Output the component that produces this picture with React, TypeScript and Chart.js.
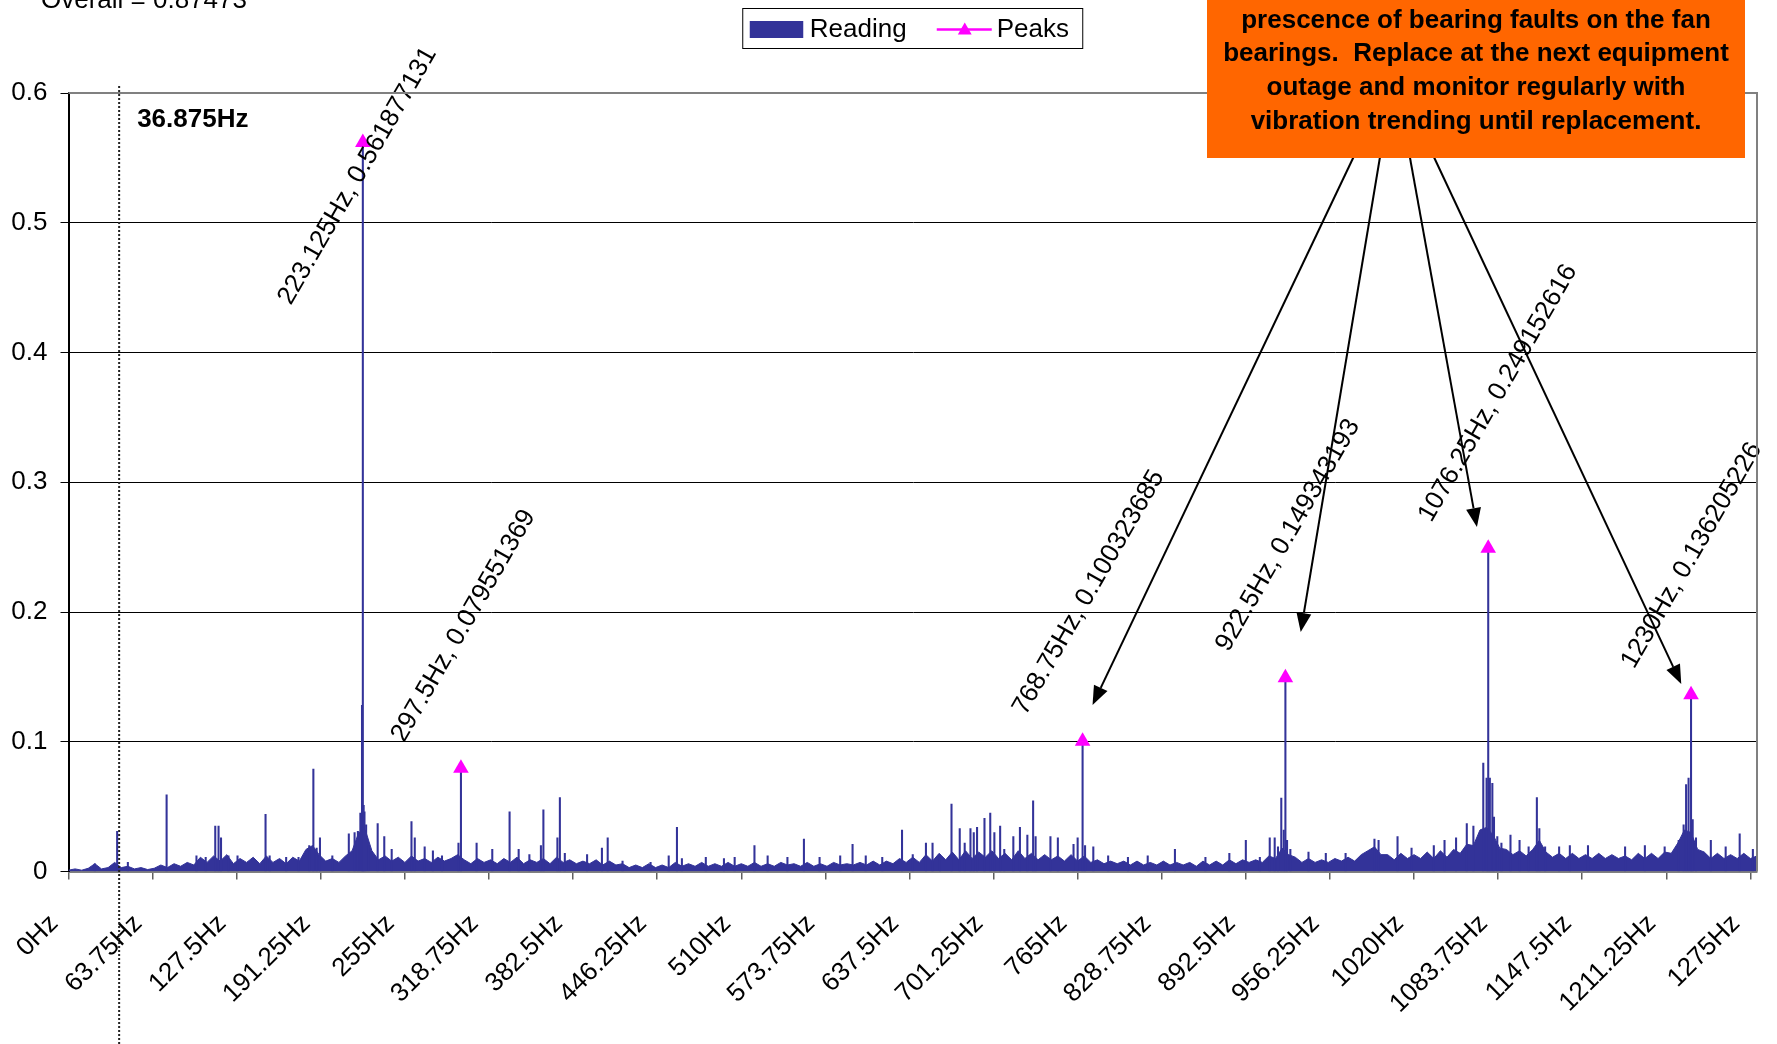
import React, { useEffect, useRef } from "react";
import { Chart, registerables } from "chart.js";

Chart.register(...registerables);

const FONT = "'Liberation Sans', Arial, Helvetica, sans-serif";

// ---- axis ticks ----
const xTickHz = [0, 63.75, 127.5, 191.25, 255, 318.75, 382.5, 446.25, 510, 573.75, 637.5, 701.25, 765, 828.75, 892.5, 956.25, 1020, 1083.75, 1147.5, 1211.25, 1275];
const xMaxHz = 1280;
const yTicks = [0, 0.1, 0.2, 0.3, 0.4, 0.5, 0.6];

// ---- peaks ----
const peakHz = [223.125, 297.5, 768.75, 922.5, 1076.25, 1230];
const peakAmp = [0.561877131, 0.079551369, 0.100323685, 0.149343193, 0.249152616, 0.136205226];

// ---- reading: noise floor (5 Hz steps, in thousandths) ----
const floorStepHz = 5;
const floorAmpMilli = [
  1, 2, 1, 2.5, 6, 2, 3, 7, 3, 4, 2, 3, 1.5, 2.5, 5, 3, 6, 4, 7, 5,
  11, 7, 12, 8, 13, 6, 10, 7, 11, 6, 12, 7, 10, 6, 11, 8, 17, 20, 13, 8,
  10, 7, 12, 16, 30, 32, 16, 9, 12, 8, 11, 7, 12, 8, 10, 7, 11, 8, 10, 13,
  9, 6, 10, 7, 9, 6, 10, 7, 11, 6, 9, 7, 10, 6, 11, 7, 9, 6, 8, 6,
  9, 5, 8, 5, 6, 3, 5, 3, 6, 3, 5, 3, 7, 4, 6, 4, 7, 4, 6, 4,
  7, 4, 6, 4, 7, 4, 6, 4, 7, 5, 6, 4, 7, 4, 6, 4, 7, 5, 6, 5,
  7, 5, 8, 5, 8, 6, 10, 7, 11, 7, 13, 8, 14, 9, 15, 9, 16, 10, 15, 11,
  16, 10, 14, 9, 16, 10, 14, 9, 13, 9, 12, 8, 13, 8, 12, 7, 9, 6, 8, 6,
  8, 5, 8, 5, 7, 5, 8, 5, 7, 5, 7, 4, 8, 5, 8, 5, 9, 6, 9, 7,
  9, 7, 12, 10, 18, 13, 11, 7, 10, 7, 9, 7, 10, 8, 11, 8, 13, 16, 19, 13,
  13, 9, 14, 10, 13, 10, 15, 10, 16, 11, 17, 14, 21, 20, 32, 34, 28, 18, 17, 13,
  16, 12, 17, 24, 15, 11, 14, 10, 14, 10, 13, 10, 14, 10, 13, 10, 12, 9, 14, 10,
  14, 10, 15, 14, 22, 32, 30, 17, 15, 10, 14, 10, 13, 10, 14, 10, 12,
];

// ---- reading: individual spectral lines [Hz, amplitude] ----
const spikesLow: [number, number][] = [
  [20, 0.006], [36.875, 0.031], [45, 0.007], [74.375, 0.059], [97, 0.012], [104, 0.011],
  [111.25, 0.035], [113.75, 0.035], [115.625, 0.026], [121.25, 0.012], [128.125, 0.012],
  [149.375, 0.044], [152.5, 0.012], [165, 0.011], [174.375, 0.011], [182.5, 0.02],
  [185.625, 0.079], [188.125, 0.018], [190.625, 0.026], [200, 0.012], [212.5, 0.029],
  [216.875, 0.03], [219.375, 0.031], [221.25, 0.045], [222.5, 0.128], [223.125, 0.561877131],
  [223.75, 0.051], [224.375, 0.046], [225.625, 0.036], [227.5, 0.02], [234.375, 0.037],
  [239.375, 0.027], [245, 0.017], [260, 0.0385], [262.5, 0.026], [270, 0.019], [276.25, 0.016],
  [283.125, 0.012], [295.625, 0.022], [297.5, 0.079551369], [309.375, 0.022], [321.25, 0.017],
  [334.375, 0.046], [341.25, 0.017], [349.375, 0.013], [358.125, 0.02], [360, 0.0475],
  [370.625, 0.026], [372.5, 0.057], [376.25, 0.014], [393.125, 0.013],
];
const spikesMid: [number, number][] = [
  [404.375, 0.018], [408.75, 0.026], [420, 0.008], [441.25, 0.007], [455, 0.012], [461.25, 0.034],
  [465, 0.01], [483.125, 0.011], [496.875, 0.01], [505, 0.011], [520, 0.02], [530, 0.012],
  [545, 0.011], [557.5, 0.025], [569.375, 0.011], [585, 0.012], [594.375, 0.021], [604.375, 0.012],
  [616.875, 0.011], [631.875, 0.032], [640, 0.013], [650, 0.022], [655, 0.022], [660.625, 0.013],
  [669.375, 0.052], [675.625, 0.033], [679.375, 0.022], [683.75, 0.033], [686.25, 0.03],
  [688.75, 0.034], [694.375, 0.041], [698.75, 0.045], [701.875, 0.03], [706.25, 0.035],
  [709.375, 0.017], [716.25, 0.027], [721.25, 0.034], [726.875, 0.028], [731.25, 0.0545],
  [733.125, 0.027], [744.375, 0.027], [750, 0.026], [761.875, 0.021], [765, 0.026],
  [768.75, 0.100323685], [770.625, 0.02], [776.875, 0.019], [788.125, 0.012],
];
const spikesHigh: [number, number][] = [
  [803.125, 0.011], [818.125, 0.012], [838.75, 0.017], [861.875, 0.011], [880, 0.014],
  [892.5, 0.024], [903.125, 0.011], [910.625, 0.026], [914.375, 0.026], [916.875, 0.019],
  [919.375, 0.0565], [921.25, 0.032], [922.5, 0.149343193], [923.75, 0.024], [926.25, 0.017],
  [940, 0.015], [953.125, 0.014], [968.125, 0.014], [990, 0.025], [993.125, 0.024],
  [1007.5, 0.027], [1018.125, 0.018], [1035, 0.02], [1043.125, 0.024], [1051.875, 0.026],
  [1060, 0.037], [1065, 0.035], [1072.5, 0.0835], [1075, 0.072], [1076.25, 0.249152616],
  [1077.5, 0.072], [1079.375, 0.068], [1080.625, 0.042], [1083.125, 0.027], [1086.25, 0.022],
  [1093.125, 0.028], [1100, 0.024], [1106.875, 0.019], [1113.125, 0.057], [1115, 0.033],
  [1119.375, 0.019], [1130, 0.019], [1138.125, 0.02], [1151.875, 0.02], [1180, 0.019],
  [1195, 0.02], [1210, 0.019], [1220.625, 0.024], [1224.375, 0.036], [1226.25, 0.067],
  [1228.125, 0.072], [1230, 0.136205226], [1231.25, 0.04], [1233.75, 0.026], [1245, 0.024],
  [1256.25, 0.019], [1266.875, 0.029], [1276.875, 0.017],
];

// ---- annotations ----
const overallText = "Overall = 0.87473";
const cursorHz = 36.875;
const noteLines = [
  "prescence of bearing faults on the fan",
  "bearings.  Replace at the next equipment",
  "outage and monitor regularly with",
  "vibration trending until replacement.",
];
const arrowTipHz = [776.3, 934.1, 1067.7, 1222.6];
const arrowTipAmp = [0.1283, 0.1846, 0.2655, 0.1445];

const NAVY = "#333399";
const MAGENTA = "#FF00FF";
const ORANGE = "#FF6600";

// layout (pixels)
const W = 1777;
const H = 1044;
const BOX = { left: 1207, right: 1745, bottom: 158, lineTop: 27.5, lineGap: 33.7 };
const ARROW_START_OFFSETS = [148, 173.5, 202.3, 225.5];

function drawTriangle(ctx: CanvasRenderingContext2D, cx: number, cy: number, r: number) {
  const hw = r * Math.sin(Math.PI / 3);
  ctx.beginPath();
  ctx.moveTo(cx, cy - r);
  ctx.lineTo(cx + hw, cy + r / 2);
  ctx.lineTo(cx - hw, cy + r / 2);
  ctx.closePath();
  ctx.fill();
}

function drawArrow(ctx: CanvasRenderingContext2D, x0: number, y0: number, x1: number, y1: number) {
  const ang = Math.atan2(y1 - y0, x1 - x0);
  const len = 19;
  const hw = 7.5;
  const bx = x1 - len * Math.cos(ang);
  const by = y1 - len * Math.sin(ang);
  ctx.beginPath();
  ctx.moveTo(x0, y0);
  ctx.lineTo(bx, by);
  ctx.stroke();
  ctx.beginPath();
  ctx.moveTo(x1, y1);
  ctx.lineTo(bx + hw * Math.sin(ang), by - hw * Math.cos(ang));
  ctx.lineTo(bx - hw * Math.sin(ang), by + hw * Math.cos(ang));
  ctx.closePath();
  ctx.fill();
}

const overlayPlugin = {
  id: "overlay",
  afterDatasetsDraw(chart: any) {
    const { ctx, scales } = chart;
    const xs = scales.x;
    const ys = scales.y;
    ctx.save();
    ctx.font = `26px ${FONT}`;
    ctx.fillStyle = "#000";
    ctx.textAlign = "left";
    ctx.textBaseline = "alphabetic";
    const ang = Math.PI / 3;
    peakHz.forEach((f, i) => {
      const text = `${f}Hz, ${peakAmp[i]}`;
      const w = ctx.measureText(text).width;
      const px = xs.getPixelForValue(f);
      const py = ys.getPixelForValue(peakAmp[i]);
      let sx = px - 57;
      let sy = py - 25;
      const top = sy - Math.sin(ang) * w - 10;
      const minTop = 43;
      if (top < minTop) {
        const d = minTop - top;
        sy += d;
        sx -= d * 0.08;
      }
      ctx.save();
      ctx.translate(sx, sy);
      ctx.rotate(-ang);
      ctx.fillText(text, 0, 0);
      ctx.restore();
    });
    ctx.restore();
  },
  afterDraw(chart: any) {
    const { ctx, chartArea: ca, scales } = chart;
    const xs = scales.x;
    const ys = scales.y;
    ctx.save();

    // plot area border (top and right)
    ctx.strokeStyle = "#808080";
    ctx.lineWidth = 2;
    ctx.beginPath();
    ctx.moveTo(ca.left, ca.top);
    ctx.lineTo(ca.right, ca.top);
    ctx.lineTo(ca.right, ca.bottom);
    ctx.stroke();

    // cursor dotted line
    const cx = xs.getPixelForValue(cursorHz) + 2;
    ctx.strokeStyle = "#222";
    ctx.lineWidth = 2;
    ctx.setLineDash([2, 2]);
    ctx.beginPath();
    ctx.moveTo(cx, ca.top - 7);
    ctx.lineTo(cx, H);
    ctx.stroke();
    ctx.setLineDash([]);
    ctx.fillStyle = "#000";
    ctx.font = `bold 26px ${FONT}`;
    ctx.textAlign = "left";
    ctx.textBaseline = "alphabetic";
    ctx.fillText(`${cursorHz}Hz`, cx + 18, ca.top + 33.5);

    // title (partially cut off at top)
    ctx.font = `26px ${FONT}`;
    ctx.fillText(overallText, 41, 8);

    // legend
    const labels = chart.data.datasets.filter((d: any) => !d.hideInLegend).map((d: any) => d.label);
    const lw = 340;
    const lx = (ca.left + ca.right) / 2 - lw / 2;
    const ly = 8.5;
    const lh = 40;
    ctx.fillStyle = "#fff";
    ctx.fillRect(lx, ly, lw, lh);
    ctx.strokeStyle = "#000";
    ctx.lineWidth = 1;
    ctx.strokeRect(lx, ly, lw, lh);
    const midY = ly + lh / 2 + 1;
    ctx.fillStyle = NAVY;
    ctx.fillRect(lx + 7, midY - 8.5, 53.5, 17);
    ctx.fillStyle = "#000";
    ctx.font = `26px ${FONT}`;
    ctx.textBaseline = "middle";
    ctx.fillText(labels[0], lx + 67, midY);
    ctx.strokeStyle = MAGENTA;
    ctx.lineWidth = 2.5;
    ctx.beginPath();
    ctx.moveTo(lx + 194, midY);
    ctx.lineTo(lx + 249, midY);
    ctx.stroke();
    ctx.fillStyle = MAGENTA;
    drawTriangle(ctx, lx + 222, midY + 1, 8);
    ctx.fillStyle = "#000";
    ctx.fillText(labels[1], lx + 254, midY);

    // arrows (drawn before the box so they emerge from under it)
    ctx.strokeStyle = "#000";
    ctx.fillStyle = "#000";
    ctx.lineWidth = 2;
    arrowTipHz.forEach((f, i) => {
      const tx = xs.getPixelForValue(f);
      const ty = ys.getPixelForValue(arrowTipAmp[i]);
      drawArrow(ctx, BOX.left + ARROW_START_OFFSETS[i], BOX.bottom - 4, tx, ty);
    });

    // orange note box
    ctx.fillStyle = ORANGE;
    ctx.fillRect(BOX.left, -10, BOX.right - BOX.left, BOX.bottom + 10);
    ctx.fillStyle = "#000";
    ctx.font = `bold 26px ${FONT}`;
    ctx.textAlign = "center";
    ctx.textBaseline = "alphabetic";
    const bcx = (BOX.left + BOX.right) / 2;
    noteLines.forEach((line, i) => {
      ctx.fillText(line, bcx, BOX.lineTop + i * BOX.lineGap);
    });

    ctx.restore();
  },
};

export default function App() {
  const ref = useRef<HTMLCanvasElement | null>(null);

  useEffect(() => {
    if (!ref.current) return;
    const spikes = [...spikesLow, ...spikesMid, ...spikesHigh];
    const chart = new Chart(ref.current, {
      type: "bar",
      data: {
        datasets: [
          {
            type: "bar",
            label: "Reading",
            data: spikes.map(([x, y]) => ({ x, y })),
            backgroundColor: NAVY,
            borderWidth: 0,
            barThickness: 1.4,
            order: 1,
          } as any,
          {
            type: "line",
            label: "Peaks",
            data: peakHz.map((x, i) => ({ x, y: peakAmp[i] })),
            showLine: false,
            pointStyle: "triangle",
            pointRadius: 9,
            pointBackgroundColor: MAGENTA,
            pointBorderColor: MAGENTA,
            pointBorderWidth: 0,
            borderColor: MAGENTA,
            order: 0,
          } as any,
          {
            type: "line",
            label: "Reading",
            hideInLegend: true,
            data: floorAmpMilli.map((v, i) => ({ x: i * floorStepHz, y: v / 1000 })),
            fill: "origin",
            backgroundColor: NAVY,
            borderColor: NAVY,
            borderWidth: 1,
            pointRadius: 0,
            tension: 0,
            order: 2,
          } as any,
        ],
      },
      options: {
        responsive: false,
        maintainAspectRatio: false,
        animation: false,
        events: [],
        layout: { padding: { left: 0, top: 93, right: 20, bottom: 0 } },
        plugins: {
          legend: { display: false },
          title: { display: false },
          tooltip: { enabled: false },
        },
        scales: {
          x: {
            type: "linear",
            min: 0,
            max: xMaxHz,
            offset: false,
            afterBuildTicks: (scale: any) => {
              scale.ticks = xTickHz.map((v) => ({ value: v }));
            },
            afterFit: (scale: any) => {
              scale.height = H - 871.5;
              scale.paddingLeft = 0;
              scale.paddingRight = 0;
            },
            ticks: {
              autoSkip: false,
              maxRotation: 45,
              minRotation: 45,
              padding: 29,
              labelOffset: -14.5,
              color: "#000",
              font: { family: FONT, size: 26 },
              callback: (v: any) => `${v}Hz`,
            },
            grid: {
              offset: false,
              drawOnChartArea: false,
              drawTicks: true,
              tickLength: 8,
              color: "#606060",
              lineWidth: 1.5,
            },
            border: { display: true, color: "#808080", width: 2 },
          },
          y: {
            type: "linear",
            min: 0,
            max: 0.6,
            afterBuildTicks: (scale: any) => {
              scale.ticks = yTicks.map((v) => ({ value: v }));
            },
            afterFit: (scale: any) => {
              scale.width = 68.5;
            },
            ticks: {
              padding: 13,
              color: "#000",
              font: { family: FONT, size: 26 },
              callback: (v: any) => `${v}`,
            },
            grid: {
              color: "#000",
              lineWidth: 1,
              drawTicks: true,
              tickLength: 8,
            },
            border: { display: true, color: "#000", width: 2 },
          },
        },
      },
      plugins: [overlayPlugin],
    } as any);
    return () => chart.destroy();
  }, []);

  return (
    <div style={{ position: "fixed", left: 0, top: 0, width: W, height: H, background: "#fff" }}>
      <canvas ref={ref} width={W} height={H} style={{ display: "block", width: W, height: H }} />
    </div>
  );
}
